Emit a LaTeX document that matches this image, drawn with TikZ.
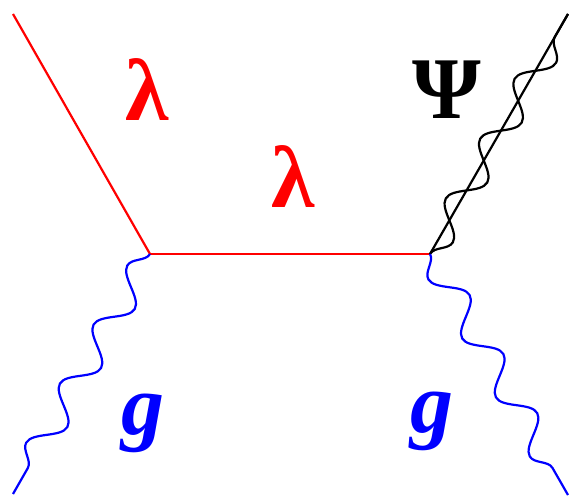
\documentclass[tikz,border=0pt]{standalone}
\usepackage{fontspec}
\setmainfont{Liberation Serif}
\usetikzlibrary{decorations.pathmorphing}
\begin{document}
\begin{tikzpicture}[x=1pt,y=-1pt,
  fermion/.style={red,line width=2.2pt},
  gluon/.style={blue,line width=2.2pt,decorate,decoration={snake,mirror,amplitude=14pt,segment length=68pt}},
  psiline/.style={black,line width=2.2pt},
  psiwave/.style={black,line width=2.2pt,decorate,decoration={snake,mirror,amplitude=14pt,segment length=69pt}},
  lbl/.style={font=\fontsize{88}{88}\selectfont\bfseries, inner sep=0pt},
  glbl/.style={blue,inner sep=0pt,font=\fontsize{86}{86}\selectfont\bfseries\itshape}]
\useasboundingbox (0,0) rectangle (570,497);
\coordinate (a) at (13,14);
\coordinate (v1) at (150,254);
\coordinate (v2) at (430,254);
\coordinate (p) at (568,14);
\coordinate (g1) at (13,494);
\coordinate (g2) at (568,495);
\draw[fermion] (a) -- (v1);
\draw[fermion] (v1) -- (v2);
\draw[psiline] (v2) -- (p);
\draw[psiwave] (v2) -- (p);
\draw[gluon] (v1) -- (g1);
\draw[gluon] (v2) -- (g2);
\node[lbl,red] (l1) at (147,90) {λ};
\node[lbl,red] (l2) at (293,177) {λ};
\node[lbl,black] (psi) at (447,90) {Ψ};
\node[glbl] (gl) at (143,423) {g};
\node[glbl] (gr) at (432,421) {g};
\end{tikzpicture}
\end{document}
